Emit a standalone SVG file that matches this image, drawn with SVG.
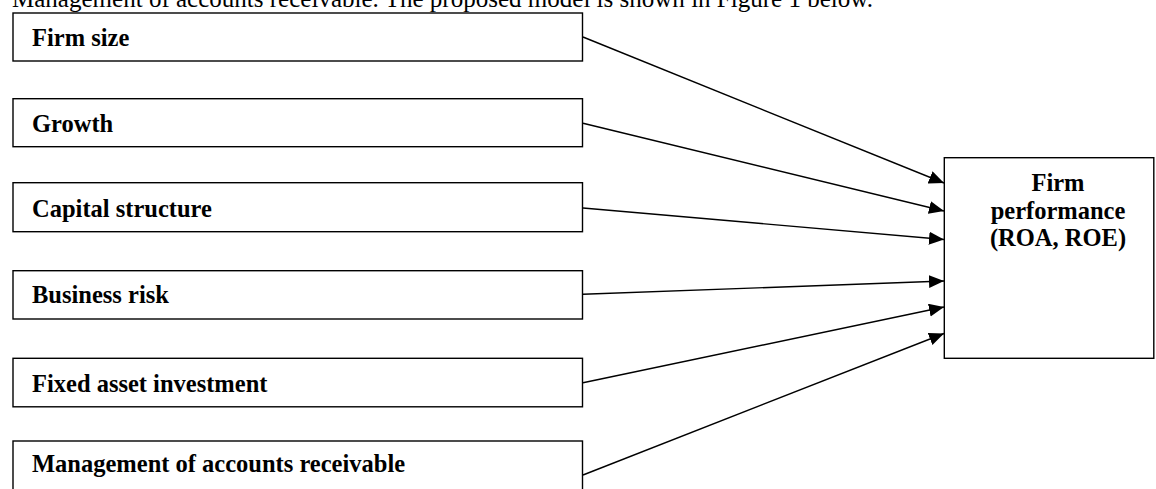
<svg xmlns="http://www.w3.org/2000/svg" width="1156" height="489" viewBox="0 0 1156 489">
<style>
.box{fill:#fff;stroke:#000;stroke-width:1.4}
.lbl{font-family:"Liberation Serif","Times New Roman",serif;font-weight:bold;font-size:24.5px;fill:#000}
.top{font-family:"Liberation Serif","Times New Roman",serif;font-size:25px;fill:#000}
.conn{stroke:#000;stroke-width:1.4;fill:none;marker-end:url(#arr)}
</style>
<defs>
<marker id="arr" markerUnits="userSpaceOnUse" markerWidth="16" markerHeight="14" refX="15" refY="6.5" orient="auto">
<path d="M0,0 L15,6.5 L0,13 z" fill="#000"/>
</marker>
</defs>
<text class="top" x="12" y="7" textLength="861" lengthAdjust="spacingAndGlyphs">Management of accounts receivable. The proposed model is shown in Figure 1 below.</text>
<g id="firm-size"><rect class="box" x="13" y="13" width="569.5" height="48"/><text class="lbl" x="32" y="45.7">Firm size</text></g>
<g id="growth"><rect class="box" x="13" y="98.7" width="569.5" height="48"/><text class="lbl" x="32" y="132">Growth</text></g>
<g id="capital-structure"><rect class="box" x="13" y="182.7" width="569.5" height="49"/><text class="lbl" x="32" y="216.5">Capital structure</text></g>
<g id="business-risk"><rect class="box" x="13" y="270.7" width="569.5" height="48.3"/><text class="lbl" x="32" y="303.3">Business risk</text></g>
<g id="fixed-asset"><rect class="box" x="13" y="358.3" width="569.5" height="48.5"/><text class="lbl" x="32" y="392.3">Fixed asset investment</text></g>
<g id="accounts-receivable"><rect class="box" x="13" y="441" width="569.5" height="60"/><text class="lbl" x="32" y="472.3">Management of accounts receivable</text></g>
<g id="firm-performance"><rect class="box" x="944.3" y="157.7" width="209.5" height="200.6"/>
<text class="lbl" text-anchor="middle"><tspan x="1058" y="191">Firm</tspan><tspan x="1058" y="218.5">performance</tspan><tspan x="1058" y="245.5">(ROA, ROE)</tspan></text></g>
<g id="connectors">
<line class="conn" x1="583" y1="37" x2="944" y2="183"/>
<line class="conn" x1="583" y1="123.3" x2="944" y2="211"/>
<line class="conn" x1="583" y1="208" x2="944" y2="239.5"/>
<line class="conn" x1="583" y1="294.3" x2="944" y2="281"/>
<line class="conn" x1="583" y1="382.7" x2="944" y2="307"/>
<line class="conn" x1="583" y1="475" x2="944" y2="333.5"/>
</g>
</svg>
